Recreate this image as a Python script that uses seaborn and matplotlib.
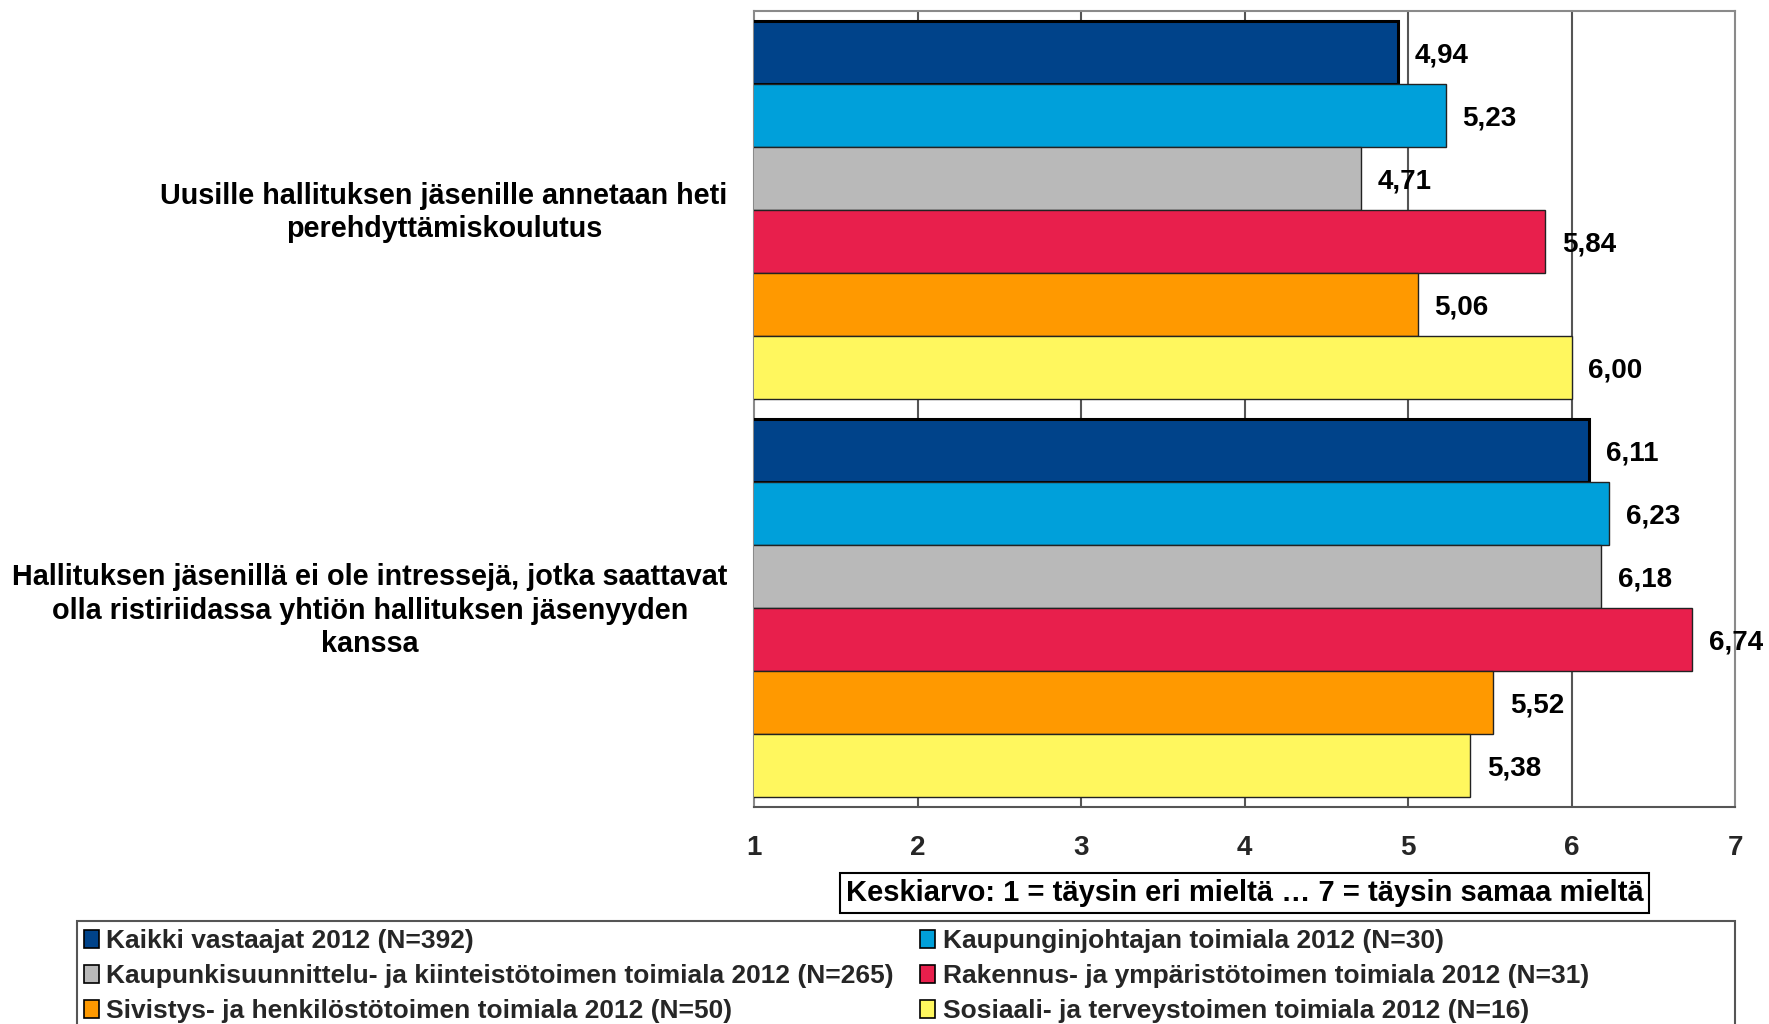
import matplotlib
matplotlib.use("Agg")
import matplotlib.pyplot as plt
import matplotlib.transforms as mtransforms
import seaborn as sns
import pandas as pd
from matplotlib.patches import Rectangle, Patch

items = [
    "Uusille hallituksen jäsenille annetaan heti\nperehdyttämiskoulutus",
    "Hallituksen jäsenillä ei ole intressejä, jotka saattavat\nolla ristiriidassa yhtiön hallituksen jäsenyyden\nkanssa",
]
groups = [
    "Kaikki vastaajat 2012 (N=392)",
    "Kaupunginjohtajan toimiala 2012 (N=30)",
    "Kaupunkisuunnittelu- ja kiinteistötoimen toimiala 2012 (N=265)",
    "Rakennus- ja ympäristötoimen toimiala 2012 (N=31)",
    "Sivistys- ja henkilöstötoimen toimiala 2012 (N=50)",
    "Sosiaali- ja terveystoimen toimiala 2012 (N=16)",
]
values_item1 = [4.94, 5.23, 4.71, 5.84, 5.06, 6.00]
values_item2 = [6.11, 6.23, 6.18, 6.74, 5.52, 5.38]
colors = ["#00438A", "#00A0DA", "#B9B9B9", "#E81F4C", "#FF9900", "#FFF75E"]
xticks = [1, 2, 3, 4, 5, 6, 7]
xlabel = "Keskiarvo: 1 = täysin eri mieltä … 7 = täysin samaa mieltä"

rows = []
for it, vals in zip(items, [values_item1, values_item2]):
    for g, v in zip(groups, vals):
        rows.append({"item": it, "group": g, "value": v})
df = pd.DataFrame(rows)

sns.set_theme(style="white")
plt.rcParams["font.family"] = ["Liberation Sans", "DejaVu Sans"]

fig = plt.figure(figsize=(17.69, 10.24), dpi=100)
ax = fig.add_axes([754 / 1769, 1 - 807 / 1024, 981 / 1769, 796 / 1024])

sns.barplot(data=df, y="item", x="value", hue="group", order=items,
            hue_order=groups, palette=colors, saturation=1, orient="h",
            width=0.95, edgecolor="#222222", linewidth=1.0, ax=ax,
            legend=False, zorder=3)

for i, cont in enumerate(ax.containers):
    for bar in cont:
        if i == 0:
            bar.set_edgecolor("black")
            bar.set_linewidth(2.2)
    labels = [f"{v:.2f}".replace(".", ",") for v in cont.datavalues]
    texts = ax.bar_label(cont, labels=labels, padding=12, fontsize=20,
                         fontweight="bold", color="black", zorder=5)
    for t in texts:
        t.set_va("center_baseline")

ax.set_xlim(1, 7)
ax.set_xticks(xticks)
ax.set_xticklabels([str(t) for t in xticks], fontsize=20, fontweight="bold")
ax.tick_params(axis="x", length=0, pad=20)
ax.tick_params(axis="y", length=0, pad=19)
shift = mtransforms.ScaledTranslation(0, 3 / 100, fig.dpi_scale_trans)
for lbl in ax.get_yticklabels():
    lbl.set_fontsize(20.7)
    lbl.set_fontweight("bold")
    lbl.set_multialignment("center")
    lbl.set_linespacing(1.24)
    lbl.set_color("black")
    lbl.set_transform(lbl.get_transform() + shift)

ax.set_ylabel("")
ax.set_xlabel(xlabel, fontsize=21, fontweight="bold", color="black",
              labelpad=13,
              bbox=dict(boxstyle="square,pad=0.2", facecolor="white",
                        edgecolor="black", linewidth=1.5))

ax.grid(False)
for x in xticks[1:-1]:
    ax.axvline(x, color="#555555", linewidth=1.5, zorder=1)

for side in ["top", "left", "right"]:
    ax.spines[side].set_color("#8a8a8a")
    ax.spines[side].set_linewidth(1.5)
ax.spines["bottom"].set_color("#555555")
ax.spines["bottom"].set_linewidth(1.5)

fig.patches.append(Rectangle((77 / 1769, -0.05), (1735 - 77) / 1769,
                             (1 - 921 / 1024) + 0.05, transform=fig.transFigure,
                             facecolor="white", edgecolor="#555555",
                             linewidth=1.5, zorder=0))

handles = [Patch(facecolor=c, edgecolor="black", linewidth=1.2) for c in colors]
order = [0, 2, 4, 1, 3, 5]
fig.legend([handles[i] for i in order], [groups[i] for i in order],
           ncol=2, loc="upper left", bbox_to_anchor=(84 / 1769, 1 - 929 / 1024),
           frameon=False, prop={"size": 19, "weight": "bold"},
           handlelength=0.55, handleheight=0.7, handletextpad=0.3,
           columnspacing=1.0, labelspacing=0.42, borderaxespad=0, borderpad=0)

fig.savefig("out.png", dpi=100, facecolor="white")
